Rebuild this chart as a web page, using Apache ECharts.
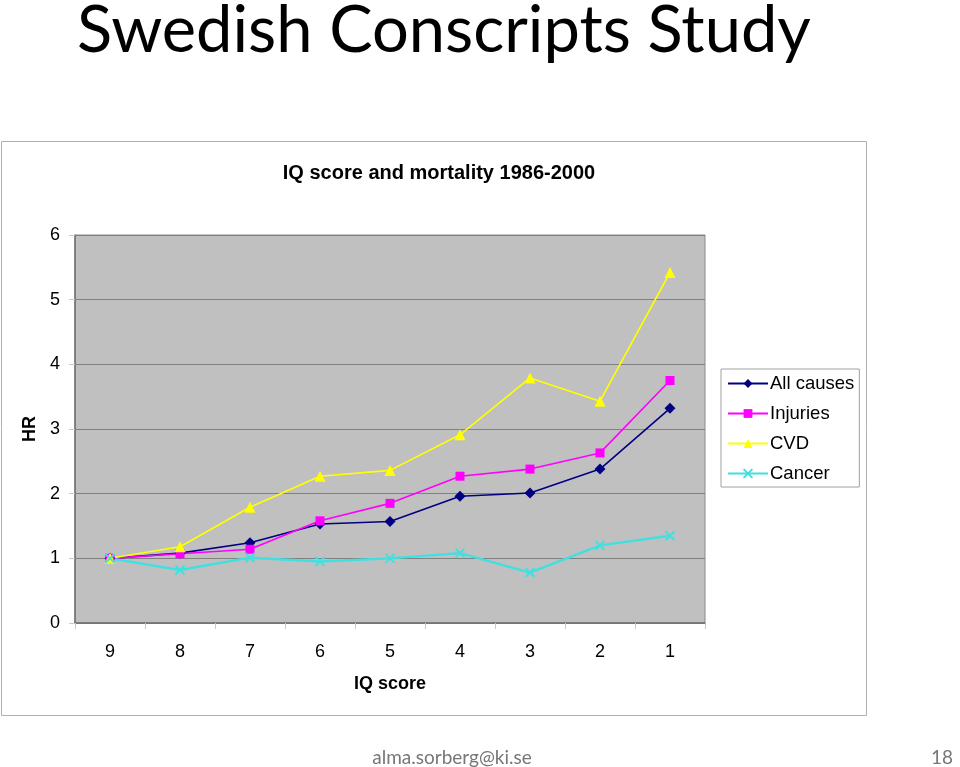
<!DOCTYPE html>
<html>
<head>
<meta charset="utf-8">
<script src="https://cdn.jsdelivr.net/npm/echarts@6/dist/echarts.min.js"></script>
<style>
  html, body { margin: 0; padding: 0; background: #fff; }
  #chart { width: 960px; height: 767px; }
</style>
</head>
<body>
<div id="chart"></div>
<script>
const iqScores = ['9', '8', '7', '6', '5', '4', '3', '2', '1']
const allCauses = [1.0, 1.08, 1.24, 1.53, 1.57, 1.96, 2.01, 2.38, 3.32]
const injuries = [1.0, 1.07, 1.14, 1.58, 1.85, 2.27, 2.38, 2.63, 3.75]
const cvd = [1.0, 1.18, 1.79, 2.27, 2.36, 2.91, 3.79, 3.43, 5.42]
const cancer = [1.0, 0.82, 1.01, 0.95, 1.0, 1.08, 0.78, 1.2, 1.35]

const chartFont = 'Liberation Sans, Arial, sans-serif'
const crossPath = 'path://M0,0 L10,10 M10,0 L0,10'

function lineSeries(name, data, color, symbol, size, extra) {
  return Object.assign({
    name,
    type: 'line',
    data,
    symbol,
    symbolSize: size,
    showSymbol: true,
    lineStyle: { width: 1.6, color },
    itemStyle: { color },
    emphasis: { disabled: true },
  }, extra || {})
}

const chart = echarts.init(document.getElementById('chart'))

chart.setOption({
  backgroundColor: '#fff',
  animation: false,
  textStyle: { fontFamily: chartFont },
  graphic: [
    {
      type: 'rect',
      shape: { x: 1.5, y: 141.5, width: 865, height: 574 },
      style: { fill: '#fff', stroke: '#b0b0b0', lineWidth: 1 },
      z: -10,
    },
  ],
  title: [
    {
      text: 'Swedish Conscripts Study',
      left: 72,
      top: -6,
      textStyle: { fontFamily: 'Lato, sans-serif', fontSize: 65, fontWeight: 'normal', color: '#000' },
    },
    {
      text: 'IQ score and mortality 1986-2000',
      left: 434,
      top: 158,
      textAlign: 'center',
      textStyle: { fontFamily: chartFont, fontSize: 20, fontWeight: 'bold', color: '#000' },
    },
    {
      text: 'alma.sorberg@ki.se',
      left: 447,
      top: 743,
      textAlign: 'center',
      textStyle: { fontFamily: 'Lato, sans-serif', fontSize: 19, fontWeight: 'normal', color: '#777' },
    },
    {
      text: '18',
      right: 2,
      top: 743,
      textStyle: { fontFamily: 'Lato, sans-serif', fontSize: 19, fontWeight: 'normal', color: '#777' },
    },
  ],
  legend: {
    orient: 'vertical',
    left: 721,
    top: 369,
    padding: [5, 5, 4, 6],
    itemWidth: 40,
    itemHeight: 11,
    itemGap: 11,
    backgroundColor: '#fff',
    borderColor: '#a0a0a0',
    borderWidth: 1,
    textStyle: { fontFamily: chartFont, fontSize: 18.5, color: '#000', padding: [0, 0, 0, -3] },
    data: ['All causes', 'Injuries', 'CVD', 'Cancer'],
  },
  grid: {
    left: 75,
    right: 255,
    top: 235,
    bottom: 144,
    show: true,
    backgroundColor: '#c0c0c0',
    borderColor: '#8a8a8a',
    borderWidth: 1,
  },
  xAxis: {
    type: 'category',
    data: iqScores,
    boundaryGap: true,
    name: 'IQ score',
    nameLocation: 'middle',
    nameGap: 52,
    nameTextStyle: { fontSize: 18, fontWeight: 'bold', color: '#000' },
    axisLine: { lineStyle: { color: '#707070', width: 1.5 } },
    axisTick: { show: true, length: 6, lineStyle: { color: '#c8c8c8' } },
    axisLabel: { fontSize: 18, color: '#000', margin: 20 },
    splitLine: { show: false },
  },
  yAxis: {
    type: 'value',
    min: 0,
    max: 6,
    interval: 1,
    name: 'HR',
    nameLocation: 'middle',
    nameRotate: 90,
    nameGap: 36,
    nameTextStyle: { fontSize: 18, fontWeight: 'bold', color: '#000' },
    axisLine: { show: true, lineStyle: { color: '#707070', width: 1.5 } },
    axisTick: { show: true, length: 6, lineStyle: { color: '#c8c8c8' } },
    axisLabel: { fontSize: 18, color: '#000', margin: 15 },
    splitLine: { show: true, lineStyle: { color: '#808080', width: 1 } },
  },
  series: [
    lineSeries('All causes', allCauses, '#000080', 'diamond', 11),
    lineSeries('Injuries', injuries, '#ff00ff', 'rect', 9),
    lineSeries('CVD', cvd, '#ffff00', 'triangle', 11),
    lineSeries('Cancer', cancer, '#40e0e0', crossPath, 9, {
      lineStyle: { width: 2.4, color: '#40e0e0' },
      itemStyle: { color: '#40e0e0', borderColor: '#40e0e0', borderWidth: 2 },
    }),
  ],
})
</script>
</body>
</html>
